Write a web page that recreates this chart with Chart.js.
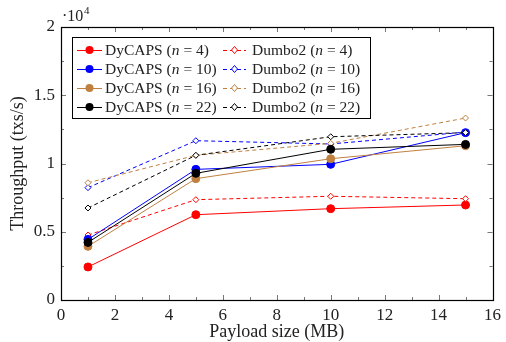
<!DOCTYPE html>
<html>
<head>
<meta charset="utf-8">
<script src="https://cdn.jsdelivr.net/npm/chart.js@4"></script>
<style>
  body { margin: 0; background: #fff; }
  #wrap { width: 506px; height: 342px; }
</style>
</head>
<body>
<div id="wrap"><canvas id="myChart"></canvas></div>
<script>
const payloads = [1, 5, 10, 15]
const seriesNames = ['DyCAPS', 'Dumbo2']
const nodeCounts = [4, 10, 16, 22]
const xTicks = [0, 2, 4, 6, 8, 10, 12, 14, 16]
const yTicks = [0, 5000, 10000, 15000, 20000]

// throughput, txs/s
const dycaps4 = [2420, 6250, 6690, 6960]
const dumbo4 = [4760, 7350, 7600, 7420]
const dycaps10 = [4440, 9570, 9940, 12260]
const dumbo10 = [8230, 11670, 11430, 12300]
const dycaps16 = [3930, 8890, 10350, 11300]
const dumbo16 = [8590, 10600, 11480, 13330]
const dycaps22 = [4220, 9280, 11040, 11400]
const dumbo22 = [6740, 10600, 11960, 12260]

const colors = ['#ff0000', '#0000ff', '#bf8040', '#000000']
const serif = "'Liberation Serif', 'DejaVu Serif', serif"

const rows = [[dycaps4, dumbo4], [dycaps10, dumbo10], [dycaps16, dumbo16], [dycaps22, dumbo22]]
const datasets = []
rows.forEach((pair, i) => {
  pair.forEach((vals, j) => {
    datasets.push({
      label: seriesNames[j] + ' (n = ' + nodeCounts[i] + ')',
      nVal: nodeCounts[i],
      name: seriesNames[j],
      dashed: j === 1,
      data: payloads.map((p, k) => ({ x: p, y: vals[k] })),
      borderColor: colors[i],
      backgroundColor: j === 1 ? '#ffffff' : colors[i],
      pointBorderColor: colors[i],
      pointStyle: j === 1 ? 'rectRot' : 'circle',
      pointRadius: j === 1 ? 3 : 4,
      pointBorderWidth: 1,
      borderWidth: 1,
      borderDash: j === 1 ? [4, 3] : [],
      fill: false,
      tension: 0
    })
  })
})
datasets.forEach((d, i) => { d.order = datasets.length - i })

// frame, inward ticks, exponent and legend
const decor = {
  id: 'decor',
  afterDraw(chart) {
    const c = chart.ctx
    const a = chart.chartArea
    const sx = chart.scales.x
    const sy = chart.scales.y
    c.save()
    c.strokeStyle = '#777'
    c.lineWidth = 1
    for (let v = 0; v <= 16; v += 1) {
      const px = Math.round(sx.getPixelForValue(v)) + 0.5
      const len = v % 2 === 0 ? 5 : 3
      c.beginPath()
      c.moveTo(px, a.bottom); c.lineTo(px, a.bottom - len)
      c.moveTo(px, a.top); c.lineTo(px, a.top + len)
      c.stroke()
    }
    for (let v = 0; v <= 20000; v += 2500) {
      const py = Math.round(sy.getPixelForValue(v)) + 0.5
      const len = v % 5000 === 0 ? 5 : 3
      c.beginPath()
      c.moveTo(a.left, py); c.lineTo(a.left + len, py)
      c.moveTo(a.right, py); c.lineTo(a.right - len, py)
      c.stroke()
    }
    c.strokeStyle = '#000'
    c.lineWidth = 1.2
    c.strokeRect(Math.round(a.left) + 0.5, Math.round(a.top) + 0.5, Math.round(a.right - a.left), Math.round(a.bottom - a.top))

    // exponent label
    c.fillStyle = '#222'
    c.textBaseline = 'alphabetic'
    c.font = '16px ' + serif
    c.fillText('\u00b710', a.left + 1, a.top - 6)
    c.font = '11px ' + serif
    c.fillText('4', a.left + 23, a.top - 13)

    // legend
    const bx = 72, by = 37, bw = 298, bh = 81
    c.fillStyle = '#fff'
    c.fillRect(bx, by, bw, bh)
    c.strokeStyle = '#000'
    c.lineWidth = 1
    c.strokeRect(bx + 0.5, by + 0.5, bw, bh)
    const colX = [77, 223]
    const textX = [105, 252]
    chart.data.datasets.forEach((d, i) => {
      const row = Math.floor(i / 2), col = i % 2
      const yy = 50 + row * 19
      c.strokeStyle = d.borderColor
      c.lineWidth = 1
      c.setLineDash(d.dashed ? [4, 3] : [])
      c.beginPath()
      c.moveTo(colX[col], yy + 0.5); c.lineTo(colX[col] + (d.dashed ? 23 : 25), yy + 0.5)
      c.stroke()
      c.setLineDash([])
      const mx = colX[col] + (d.dashed ? 11.5 : 12.5)
      c.beginPath()
      if (d.dashed) {
        c.moveTo(mx, yy - 3.5); c.lineTo(mx + 3, yy); c.lineTo(mx, yy + 3.5); c.lineTo(mx - 3, yy); c.closePath()
        c.fillStyle = '#fff'; c.fill(); c.stroke()
      } else {
        c.arc(mx, yy, 4, 0, Math.PI * 2)
        c.fillStyle = d.borderColor; c.fill()
      }
      // text with italic n
      c.fillStyle = '#222'
      c.textBaseline = 'middle'
      let tx = textX[col]
      const parts = [[d.name + ' (', ''], ['n', 'italic '], [' = ' + d.nVal + ')', '']]
      parts.forEach(p => {
        c.font = p[1] + '15.5px ' + serif
        c.fillText(p[0], tx, yy + 1)
        tx += c.measureText(p[0]).width
      })
    })
    c.restore()
  }
}

let ctx = document.getElementById('myChart').getContext('2d')
let chart = new Chart(ctx, {
  type: 'line',
  data: { datasets: datasets },
  options: {
    responsive: true,
    maintainAspectRatio: false,
    animation: false,
    layout: { padding: { left: 0, top: 27, right: 13, bottom: 0 } },
    plugins: { legend: { display: false }, tooltip: { enabled: false } },
    scales: {
      x: {
        type: 'linear',
        min: 0, max: 16,
        afterBuildTicks: s => { s.ticks = xTicks.map(v => ({ value: v })) },
        afterFit: s => { s.height = 42 },
        grid: { display: false, drawTicks: false },
        border: { display: false },
        ticks: { color: '#222', padding: 5, font: { family: serif, size: 17 } },
        title: { display: true, text: 'Payload size (MB)', color: '#222', padding: { top: 0, bottom: -1 }, font: { family: serif, size: 18 } }
      },
      y: {
        min: 0, max: 20000,
        afterBuildTicks: s => { s.ticks = yTicks.map(v => ({ value: v })) },
        afterFit: s => { s.width = 61 },
        grid: { display: false, drawTicks: false },
        border: { display: false },
        ticks: { color: '#222', padding: 6, font: { family: serif, size: 17 }, callback: v => String(v / 10000) },
        title: { display: true, text: 'Throughput (txs/s)', color: '#222', padding: { top: 7, bottom: 0 }, font: { family: serif, size: 18 } }
      }
    }
  },
  plugins: [decor]
})
</script>
</body>
</html>
